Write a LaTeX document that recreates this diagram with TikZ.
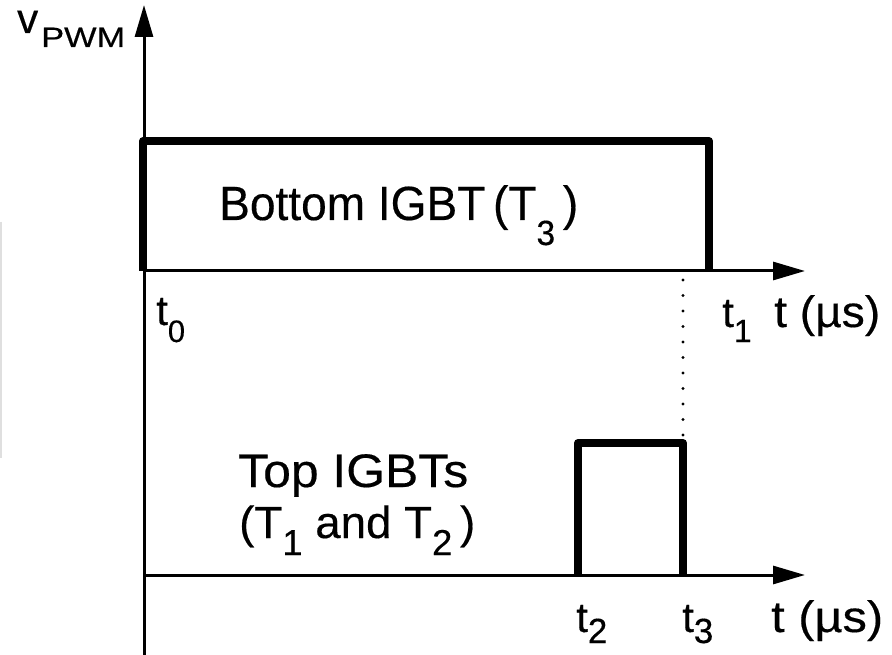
\documentclass[tikz,border=0pt]{standalone}
\usepackage{fontspec}
\usepackage{graphicx}
\setmainfont[FakeBold=0.35]{Liberation Sans}
\usetikzlibrary{arrows.meta}

% lowered digit: size, drop below baseline, digit
\newcommand{\dsub}[3]{\raisebox{-#2pt}{\fontsize{#1}{#1}\selectfont #3}}
% stretch a label horizontally to a given width
\newcommand{\fitw}[2]{\resizebox{#1}{\height}{#2}}
\newcommand{\fs}[1]{\fontsize{#1}{#1}\selectfont}

\begin{document}
\begin{tikzpicture}[x=1pt,y=-1pt,
  axis/.style={line width=3pt,-{Triangle[length=32pt,width=18pt]}},
  pulse/.style={line width=8pt,line join=round},
  lab/.style={inner sep=0pt,anchor=base west}]
\useasboundingbox (0,0) rectangle (892,655);

% faint rule at the left edge
\draw[gray!25,line width=2pt] (1,222) -- (1,458);

% axes
\coordinate (ybot) at (144,655);
\coordinate (ytop) at (144,5);
\coordinate (o1) at (144,271);
\coordinate (x1) at (805,271);
\coordinate (o2) at (144,575);
\coordinate (x2) at (805,575);
\draw[axis] (ybot) -- (ytop);
\draw[axis] (o1) -- (x1);
\draw[axis] (o2) -- (x2);

% bottom IGBT gate pulse
\coordinate (a0) at (143,271);
\coordinate (a1) at (143,141);
\coordinate (a2) at (709,141);
\coordinate (a3) at (709,271);
\draw[pulse] (a0) -- (a1) -- (a2) -- (a3);

% top IGBTs gate pulse
\coordinate (b0) at (578,575);
\coordinate (b1) at (578,443);
\coordinate (b2) at (683,443);
\coordinate (b3) at (683,575);
\draw[pulse] (b0) -- (b1) -- (b2) -- (b3);

% dotted marker from t1 down to the end of the top pulse
\coordinate (d0) at (683,280);
\coordinate (d1) at (683,438);
\draw[line width=3.2pt,line cap=round,dash pattern=on 0pt off 15.5pt] (d0) -- (d1);

% labels
\node[lab] (vlab) at (17,33) {\fs{42}v};
\node[lab] (pwm) at (41,47) {\fitw{84pt}{\fs{28}PWM}};
\node[lab] (bot) at (219,220) {\fitw{359pt}{\fs{48}Bottom IGBT\,(T\dsub{35}{25}{3}\,)}};
\node[lab] (top1) at (238,487) {\fitw{230pt}{\fs{47}Top IGBTs}};
\node[lab] (top2) at (239,538) {\fitw{236pt}{\fs{45}(T\dsub{36}{17}{1} and T\dsub{36}{17}{2}\,)}};

\node[lab] (t0) at (156,325) {\fs{42}t\dsub{31}{17}{0}};
\node[lab] (t1) at (722,327) {\fs{42}t\dsub{32}{15}{1}};
\node[lab] (tu1) at (774,327) {\fitw{106pt}{\fs{44}t (µs)}};

\node[lab] (t2) at (576,632) {\fs{42}t\dsub{35}{11}{2}};
\node[lab] (t3) at (682,632) {\fs{42}t\dsub{35}{11}{3}};
\node[lab] (tu2) at (771,632) {\fitw{112pt}{\fs{44}t (µs)}};
\end{tikzpicture}
\end{document}
